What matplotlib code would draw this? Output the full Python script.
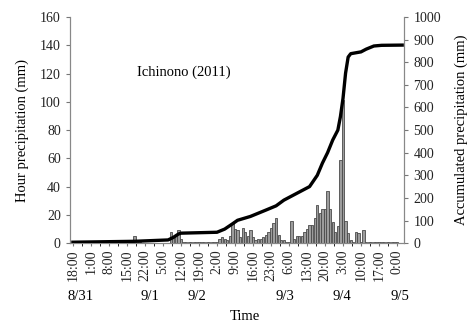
#Hourly and accumulated precipitation, Ichinono (2011)
import matplotlib.pyplot as plt
import matplotlib.transforms as mtransforms

plt.rcParams['font.family'] = ['Liberation Serif', 'DejaVu Serif']

#hourly precipitation (mm), one value per hour starting 8/31 18:00
hourRain = [0, 0, 0, 0, 0, 1, 0, 0, 0, 0,
            0, 0, 0, 0, 0, 0, 0, 0, 0, 0,
            0, 0, 0, 0, 5, 2, 1, 0, 0, 0,
            0, 0, 0, 0, 0, 0, 0, 0, 8, 5,
            6, 9, 3, 0.5, 0.5, 0.5, 0.5, 0.5, 0.5, 0.5,
            0.5, 0.5, 0.5, 0.5, 0.5, 0.5, 0.5, 3, 4, 3,
            2, 5, 14, 10, 9, 4, 11, 8, 5, 9,
            4, 2, 3, 3, 4, 6, 8, 11, 14, 18,
            6, 2, 2, 0.5, 1, 16, 3, 5, 5, 5,
            8, 10, 13, 13, 18, 27, 21, 24, 24, 37,
            24, 15, 8, 12, 59, 101, 16, 7, 2, 0.5,
            8, 7, 0.5, 9, 0.5, 0.5, 0.5, 0.5, 0.5, 0.5,
            0.5, 0.5, 0.5, 0.5, 0.5, 0.5, 0.5]
hours = list(range(len(hourRain)))

#accumulated precipitation (mm) read at some hours
accHours = [0, 24, 37, 39, 41, 42, 56, 59, 62, 64, 69, 75, 79, 82, 88, 92, 95,
            97, 99, 101, 103, 104, 105, 106, 107, 108, 110, 112, 114, 117, 120, 128]
accRain = [4, 8, 14, 25, 40, 44, 48, 62, 85, 101, 118, 146, 165, 190, 226, 250, 300,
           354, 400, 456, 500, 560, 640, 752, 823, 838, 842, 846, 858, 872, 875, 876]

#tick labels every 7 hours
tickLabels = ['18:00', '1:00', '8:00', '15:00', '22:00', '5:00', '12:00', '19:00',
              '2:00', '9:00', '16:00', '23:00', '6:00', '13:00', '20:00', '3:00',
              '10:00', '17:00', '0:00']
dateLabels = ['8/31', '9/1', '9/2', '9/3', '9/4', '9/5']
dateHours = [3, 30, 48, 82.5, 104.5, 127]

fig = plt.figure(figsize=(4.75, 3.22), dpi=100)
ax = fig.add_axes([0.147, 0.245, 0.704, 0.702])
ax2 = ax.twinx()

ax.bar(hours, hourRain, width=0.9, color='#9c9c9c', edgecolor='#4a4a4a', linewidth=0.6, zorder=2)
ax2.plot(accHours, accRain, color='black', linewidth=2.4, zorder=3)

ax.set_xlim(-1.2, 128.8)
ax.set_ylim(0, 160)
ax.set_yticks(range(0, 161, 20))
ax2.set_ylim(0, 1000)
ax2.set_yticks(range(0, 1001, 100))

ax.set_xticks([i * 7 for i in range(len(tickLabels))])
ax.set_xticklabels(tickLabels, rotation=90, fontsize=9.5)
ax.set_xticks([i * 7 + 3.5 for i in range(len(tickLabels) - 1)], minor=True)

for a in (ax, ax2):
    a.tick_params(labelsize=10, color='#777777', length=3, width=0.8, labelcolor='#222222')
    for s in a.spines.values():
        s.set_color('#888888')
    a.spines['top'].set_visible(False)
ax.tick_params(axis='x', which='both', length=2.5, pad=2)

ax.set_ylabel('Hour precipitation (mm)', fontsize=10.5, labelpad=8)
ax2.set_ylabel('Accumulated precipitation (mm)', fontsize=10.5, labelpad=10)

trans = mtransforms.blended_transform_factory(ax.transData, fig.transFigure)
for d, h in zip(dateLabels, dateHours):
    ax.text(h, 1 - 297 / 322, d, transform=trans, ha='center', va='center', fontsize=10.5)
ax.text(67, 1 - 316 / 322, 'Time', transform=trans, ha='center', va='center', fontsize=10.5)

ax.text(0.2, 0.757, 'Ichinono (2011)', transform=ax.transAxes, fontsize=10.5, va='center')

fig.savefig('out.png', dpi=100)
